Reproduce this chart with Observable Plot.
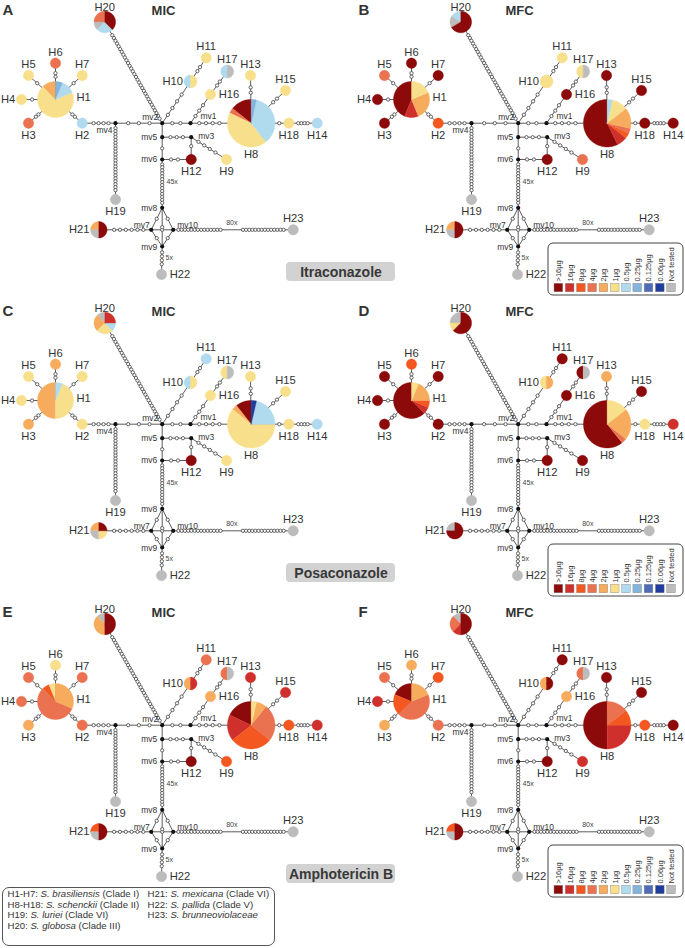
<!DOCTYPE html>
<html><head><meta charset="utf-8">
<script src="https://cdn.jsdelivr.net/npm/d3@7"></script>
<script src="https://cdn.jsdelivr.net/npm/@observablehq/plot@0.6"></script>
<style>
body{margin:0;background:#fff;font-family:"Liberation Sans",Arial,sans-serif;}
#wrap{position:relative;width:685px;height:948px;overflow:hidden;}
#species{position:absolute;left:2px;top:887px;width:273px;height:59px;box-sizing:border-box;border:1px solid #555;border-radius:7px;font-size:9.6px;color:#333;background:#fff;}
#species div{position:absolute;white-space:nowrap;line-height:10.5px;}
</style></head><body><div id="wrap"></div>
<script>
// ---------- categories / legend ----------
const concentrations = [">16µg","16µg","8µg","4µg","2µg","1µg","0.5µg","0.25µg","0.125µg","0.06µg","Not tested"];
const concentrationColors = ["#8c0a0a","#d0302b","#f4571f","#ea7250","#f6ac5c","#f8df8c","#b0dbee","#83b4dc","#4e6cb8","#1f3d9c","#bcbcbc"];

// ---------- haplotypes ----------
const haplotypes = ["H1","H2","H3","H4","H5","H6","H7","H8","H9","H10","H11","H12","H13","H14","H15","H16","H17","H18","H19","H20","H21","H22","H23"];
const isolateCounts = [27,1,1,1,1,1,1,50,1,2,1,1,1,1,1,1,2,1,1,8,4,1,1];

// ---------- per-panel isolate values (slices counter-clockwise from 12 o'clock) ----------
const itraconazoleMIC = [
 ["H1",[["2µg",2],["1µg",11],["0.5µg",2],["0.25µg",1]]],
 ["H2",[["0.5µg",1]]],["H3",[["4µg",1]]],["H4",[["1µg",1]]],["H5",[["1µg",1]]],["H6",[["4µg",1]]],["H7",[["1µg",1]]],
 ["H8",[[">16µg",4],["4µg",1],["1µg",12],["0.5µg",10],["0.25µg",1]]],
 ["H9",[["1µg",1]]],["H10",[["0.5µg",1],["1µg",1]]],["H11",[["1µg",1]]],["H12",[[">16µg",1]]],["H13",[["1µg",1]]],
 ["H14",[["0.5µg",1]]],["H15",[["1µg",1]]],["H16",[["1µg",1]]],["H17",[["0.5µg",1],["Not tested",1]]],["H18",[["1µg",1]]],
 ["H19",[["Not tested",1]]],["H20",[["4µg",2],["Not tested",1],["0.5µg",2],[">16µg",3]]],
 ["H21",[["2µg",1],["Not tested",1],[">16µg",2]]],["H22",[["Not tested",1]]],["H23",[["Not tested",1]]]
];
const itraconazoleMFC = [
 ["H1",[[">16µg",7],["16µg",2],["2µg",4],["1µg",3]]],
 ["H2",[["8µg",1]]],["H3",[[">16µg",1]]],["H4",[[">16µg",1]]],["H5",[["4µg",1]]],["H6",[[">16µg",1]]],["H7",[[">16µg",1]]],
 ["H8",[[">16µg",16],["16µg",2],["8µg",1],["4µg",1],["2µg",4],["1µg",3],["0.5µg",1]]],
 ["H9",[["4µg",1]]],["H10",[["1µg",2]]],["H11",[["1µg",1]]],["H12",[[">16µg",1]]],["H13",[[">16µg",1]]],
 ["H14",[[">16µg",1]]],["H15",[[">16µg",1]]],["H16",[[">16µg",1]]],["H17",[["1µg",1],["Not tested",1]]],["H18",[[">16µg",1]]],
 ["H19",[["Not tested",1]]],["H20",[["0.5µg",1],["Not tested",1],[">16µg",4]]],
 ["H21",[["2µg",1],["Not tested",1],[">16µg",2]]],["H22",[["Not tested",1]]],["H23",[["Not tested",1]]]
];
const posaconazoleMIC = [
 ["H1",[["2µg",8],["1µg",7],["0.5µg",1]]],
 ["H2",[["1µg",1]]],["H3",[["2µg",1]]],["H4",[["1µg",1]]],["H5",[["1µg",1]]],["H6",[["2µg",1]]],["H7",[["1µg",1]]],
 ["H8",[[">16µg",3],["2µg",1],["1µg",17],["0.5µg",6],["0.06µg",1]]],
 ["H9",[["1µg",1]]],["H10",[["0.5µg",1],["1µg",1]]],["H11",[["0.5µg",1]]],["H12",[[">16µg",1]]],["H13",[["1µg",1]]],
 ["H14",[["0.5µg",1]]],["H15",[["1µg",1]]],["H16",[["1µg",1]]],["H17",[["1µg",1],["Not tested",1]]],["H18",[["1µg",1]]],
 ["H19",[["Not tested",1]]],["H20",[["Not tested",1],["2µg",2],["1µg",2],["0.5µg",1],["16µg",2]]],
 ["H21",[["2µg",1],["Not tested",1],["1µg",1],[">16µg",1]]],["H22",[["Not tested",1]]],["H23",[["Not tested",1]]]
];
const posaconazoleMFC = [
 ["H1",[[">16µg",10],["16µg",1],["8µg",1],["2µg",3],["1µg",1]]],
 ["H2",[[">16µg",1]]],["H3",[[">16µg",1]]],["H4",[[">16µg",1]]],["H5",[[">16µg",1]]],["H6",[["8µg",1]]],["H7",[[">16µg",1]]],
 ["H8",[[">16µg",17],["4µg",1],["2µg",6],["1µg",4]]],
 ["H9",[[">16µg",1]]],["H10",[["1µg",1],["2µg",1]]],["H11",[[">16µg",1]]],["H12",[[">16µg",1]]],["H13",[["2µg",1]]],
 ["H14",[["16µg",1]]],["H15",[[">16µg",1]]],["H16",[[">16µg",1]]],["H17",[[">16µg",1],["Not tested",1]]],["H18",[["1µg",1]]],
 ["H19",[["Not tested",1]]],["H20",[["Not tested",2],["1µg",1],[">16µg",5]]],
 ["H21",[["Not tested",1],[">16µg",3]]],["H22",[["Not tested",1]]],["H23",[["Not tested",1]]]
];
const amphotericinMIC = [
 ["H1",[["1µg",1],["8µg",1],["4µg",9],["2µg",5]]],
 ["H2",[["4µg",1]]],["H3",[["2µg",1]]],["H4",[["4µg",1]]],["H5",[["4µg",1]]],["H6",[["1µg",1]]],["H7",[["4µg",1]]],
 ["H8",[[">16µg",5],["16µg",5],["8µg",8],["4µg",7],["2µg",2],["1µg",1]]],
 ["H9",[["8µg",1]]],["H10",[["2µg",1],["16µg",1]]],["H11",[["4µg",1]]],["H12",[[">16µg",1]]],["H13",[["16µg",1]]],
 ["H14",[["16µg",1]]],["H15",[["16µg",1]]],["H16",[["2µg",1]]],["H17",[["4µg",1],["Not tested",1]]],["H18",[["8µg",1]]],
 ["H19",[["Not tested",1]]],["H20",[["Not tested",1],["2µg",3],[">16µg",4]]],
 ["H21",[["8µg",1],["Not tested",1],[">16µg",2]]],["H22",[["Not tested",1]]],["H23",[["Not tested",1]]]
];
const amphotericinMFC = [
 ["H1",[[">16µg",3],["8µg",3],["4µg",7],["2µg",3]]],
 ["H2",[["4µg",1]]],["H3",[["2µg",1]]],["H4",[["16µg",1]]],["H5",[["4µg",1]]],["H6",[["2µg",1]]],["H7",[["8µg",1]]],
 ["H8",[[">16µg",14],["16µg",7],["8µg",3],["4µg",4]]],
 ["H9",[["16µg",1]]],["H10",[["2µg",1],[">16µg",1]]],["H11",[[">16µg",1]]],["H12",[[">16µg",1]]],["H13",[[">16µg",1]]],
 ["H14",[[">16µg",1]]],["H15",[[">16µg",1]]],["H16",[["2µg",1]]],["H17",[["4µg",1],["Not tested",1]]],["H18",[["8µg",1]]],
 ["H19",[["Not tested",1]]],["H20",[["Not tested",1],["4µg",2],["16µg",1],[">16µg",4]]],
 ["H21",[["8µg",1],["Not tested",1],[">16µg",2]]],["H22",[["Not tested",1]]],["H23",[["Not tested",1]]]
];

const panelLetters = ["A","B","C","D","E","F"];
const panelStatistics = ["MIC","MFC","MIC","MFC","MIC","MFC"];
const drugs = ["Itraconazole","Posaconazole","Amphotericin B"];
const panelValues = [itraconazoleMIC, itraconazoleMFC, posaconazoleMIC, posaconazoleMFC, amphotericinMIC, amphotericinMFC];

// ---------- network (median-joining) ----------
// node layout in network units: id, x, y, label side
const networkLayout = [
 ["H1",55,99,"right"],["H2",81.7,122.7,"below"],["H3",28,122.7,"below"],["H4",21,99,"left"],
 ["H5",28,75,"above"],["H6",55,62.7,"above"],["H7",81.7,75,"above"],["H8",250.7,122.7,"below"],
 ["H9",226,159,"below"],["H10",190,81,"left"],["H11",205.7,57.3,"above"],["H12",190.7,159,"below"],
 ["H13",250,75,"above"],["H14",316.7,122.7,"below"],["H15",285,90,"above"],["H16",210,94,"right"],
 ["H17",226.7,71,"above"],["H18",288.3,122.7,"below"],["H19",115,199,"below"],["H20",104.3,21.5,"above"],
 ["H21",98.3,229.3,"left"],["H22",161,274,"right"],["H23",292.7,229.3,"above"],
 ["mv1",190,122.7],["mv2",161.7,122.7],["mv3",190.7,136.7],["mv4",115,122.7],["mv5",161.7,136.7],
 ["mv6",161.7,159],["mv7",150.7,229.3],["mv8",161.7,207.3],["mv9",161.7,246],["mv10",172.7,229.3],
 ["gap80",231.3,229.3]
];
const medianVectors = ["mv1","mv2","mv3","mv4","mv5","mv6","mv7","mv8","mv9","mv10"];
const mvLabelPlacement = [["mv1",10,-6.5,"start"],["mv2",-4,-6,"end"],["mv3",7,-0.5,"start"],["mv4",-3,7.5,"end"],
 ["mv5",-5,0,"end"],["mv6",-5,0,"end"],["mv7",-1.5,-5,"end"],["mv8",-5,0,"end"],["mv9",-5,1,"end"],["mv10",4,-5,"start"]];
// edges: from, to, number of drawn mutation marks
const edges = [
 ["H1","H2",2],["H1","H3",2],["H1","H4",1],["H1","H5",1],["H1","H6",2],["H1","H7",1],
 ["H2","mv4",4],["mv4","mv2",3],["mv2","mv1",2],["mv1","H8",4],
 ["H8","H18",1],["H18","H14",4],["H8","H13",2],["H8","H15",2],
 ["mv1","H16",3],["H16","H17",2],["mv2","H10",4],["H10","H11",2],
 ["H20","mv2",31],["mv2","mv5",0],["mv5","mv3",3],["mv3","H12",1],["mv3","H9",4],
 ["mv5","mv6",1],["mv6","H12",2],["mv4","H19",22],["mv6","mv8",14],
 ["mv8","mv7",1],["mv8","mv10",1],["mv7","mv9",1],["mv10","mv9",1],["mv7","mv10",1],["mv8","mv9",1],
 ["H21","mv7",6],["mv10","gap80",14],["gap80","H23",14],["mv9","H22",4]
];
const chainLabels = [["45x",166,181.7,"start"],["80x",231.3,222,"middle"],["5x",165,257.7,"start"]];

const speciesKey = [
 ["H1-H7: ","S. brasiliensis"," (Clade I)"],
 ["H8-H18: ","S. schenckii"," (Clade II)"],
 ["H19: ","S. luriei"," (Clade VI)"],
 ["H20: ","S. globosa"," (Clade III)"],
 ["H21: ","S. mexicana"," (Clade VI)"],
 ["H22: ","S. pallida"," (Clade V)"],
 ["H23: ","S. brunneoviolaceae",""]
];

// ---------- layout helpers ----------
const colOffset = [0, 356], rowOffset = [0, 301, 602];
const nodeRadius = n => 3.06 * Math.sqrt(n) + 2.14;
const layout = new Map(networkLayout.map(([id, x, y, side]) => {
  const hi = haplotypes.indexOf(id);
  const r = hi >= 0 ? nodeRadius(isolateCounts[hi]) : (id === "gap80" ? 8 : 2);
  return [id, {id, x, y, side, r, hap: hi >= 0}];
}));

const edgeRows = [], tickRows = [], mvRows = [], pieRows = [], nodeLabelRows = [], mvLabelRows = [], chainLabelRows = [];
const titleRows = [], drugBoxRows = [], legendBoxRows = [], swatchRows = [], swatchLabelRows = [];

panelValues.forEach((values, p) => {
  const col = p % 2, row = Math.floor(p / 2);
  const ox = colOffset[col], oy = rowOffset[row];
  for (const [a, b, k] of edges) {
    const A = layout.get(a), B = layout.get(b);
    const ax = A.x + ox, ay = A.y + oy, bx = B.x + ox, by = B.y + oy;
    edgeRows.push({x1: ax, y1: ay, x2: bx, y2: by});
    const L = Math.hypot(bx - ax, by - ay), ux = (bx - ax) / L, uy = (by - ay) / L;
    const sA = A.r + (A.hap ? 1.2 : 0), sB = B.r + (B.hap ? 1.2 : 0);
    const sx = ax + ux * sA, sy = ay + uy * sA, ex = bx - ux * sB, ey = by - uy * sB;
    for (let i = 1; i <= k; i++) {
      const t = i / (k + 1);
      tickRows.push({x: sx + (ex - sx) * t, y: sy + (ey - sy) * t});
    }
  }
  for (const id of medianVectors) {
    const n = layout.get(id);
    mvRows.push({x: n.x + ox, y: n.y + oy});
  }
  for (const [id, dx, dy, anchor] of mvLabelPlacement) {
    const n = layout.get(id);
    mvLabelRows.push({x: n.x + ox + dx, y: n.y + oy + dy, text: id, anchor});
  }
  for (const [text, x, y, anchor] of chainLabels) chainLabelRows.push({x: x + ox, y: y + oy, text, anchor});
  for (const [hap, slices] of values) {
    const n = layout.get(hap);
    const cx = n.x + ox, cy = n.y + oy, r = n.r;
    const total = d3.sum(slices, d => d[1]);
    let a = 0;
    slices.forEach(([cat, w], i) => {
      const a0 = a, a1 = a + (w / total) * 2 * Math.PI; a = a1;
      const id = `${p}-${hap}-${i}`;
      const steps = Math.max(2, Math.ceil((a1 - a0) / (Math.PI / 90)));
      const full = slices.length === 1;
      if (!full) pieRows.push({id, cat, x: cx, y: cy});
      for (let s = 0; s <= steps; s++) {
        const th = -(a0 + (a1 - a0) * s / steps);
        pieRows.push({id, cat, x: cx + r * Math.sin(th), y: cy - r * Math.cos(th)});
      }
      if (!full) pieRows.push({id, cat, x: cx, y: cy});
    });
    let L;
    if (n.side === "above") L = {x: cx, y: cy - r - 6, anchor: "middle"};
    else if (n.side === "below") L = {x: cx, y: cy + r + 7, anchor: "middle"};
    else if (n.side === "left") L = {x: cx - r - 1, y: cy, anchor: "end"};
    else L = {x: cx + r + 3, y: cy - (r > 10 ? 2 : 0), anchor: "start"};
    if (hap === "H20") L.y = Math.max(L.y, oy + 6.5);
    nodeLabelRows.push({...L, text: hap});
  }
  titleRows.push({x: 2 + ox, y: 10 + oy, text: panelLetters[p], size: 15, anchor: "start"});
  titleRows.push({x: 163 + ox, y: 10 + oy, text: panelStatistics[p], size: 13, anchor: "middle"});
  if (col === 0) {
    drugBoxRows.push({x1: 286 + ox, x2: 395 + ox, y1: 262 + oy, y2: 281 + oy, x: 340.5 + ox, y: 271.8 + oy, text: drugs[row]});
  } else {
    legendBoxRows.push({x1: 192 + ox, x2: 327 + ox, y1: 243 + oy, y2: 295 + oy});
    concentrations.forEach((c, i) => {
      const x0 = 198 + ox + i * 11.27;
      swatchRows.push({x1: x0, x2: x0 + 8.7, y1: 283.3 + oy, y2: 291.8 + oy, cat: c});
      swatchLabelRows.push({x: x0 + 4.35, y: 281 + oy, text: c});
    });
  }
});

// text marks split by anchor (textAnchor is a constant option)
function anchoredText(rows, options) {
  return ["start", "middle", "end"].map(a =>
    Plot.text(rows.filter(d => d.anchor === a), {x: "x", y: "y", text: "text", textAnchor: a, ...options}));
}

const font = "Liberation Sans, Arial, Helvetica, sans-serif";
const chart = Plot.plot({
  width: 685, height: 948, margin: 0,
  style: {fontFamily: font, background: "white"},
  x: {domain: [0, 685], range: [0, 685], axis: null},
  y: {domain: [0, 948], range: [0, 948], axis: null},
  color: {domain: concentrations, range: concentrationColors},
  marks: [
    Plot.rect(drugBoxRows, {x1: "x1", x2: "x2", y1: "y1", y2: "y2", fill: "#d2d2d2", rx: 4}),
    Plot.text(drugBoxRows, {x: "x", y: "y", text: "text", fontWeight: "bold", fontSize: 14, fill: "#383838"}),
    Plot.link(edgeRows, {x1: "x1", y1: "y1", x2: "x2", y2: "y2", stroke: "#4a4a4a", strokeWidth: 0.9}),
    Plot.dot(tickRows, {x: "x", y: "y", r: 1.65, fill: "white", stroke: "#4a4a4a", strokeWidth: 0.85}),
    Plot.dot(mvRows, {x: "x", y: "y", r: 2.1, fill: "#111", stroke: null}),
    Plot.line(pieRows, {x: "x", y: "y", z: "id", fill: "cat", stroke: "cat", strokeWidth: 0.35, curve: "linear"}),
    ...anchoredText(nodeLabelRows, {fontSize: 11.2, fill: "#333"}),
    ...anchoredText(mvLabelRows, {fontSize: 8.5, fill: "#333"}),
    ...anchoredText(chainLabelRows, {fontSize: 7, fill: "#444"}),
    ...anchoredText(titleRows, {fontSize: "size", fontWeight: "bold", fill: "#333"}),
    Plot.rect(legendBoxRows, {x1: "x1", x2: "x2", y1: "y1", y2: "y2", fill: "white", stroke: "#444", strokeWidth: 1, rx: 5}),
    Plot.rect(swatchRows, {x1: "x1", x2: "x2", y1: "y1", y2: "y2", fill: "cat", stroke: "#888", strokeWidth: 0.4}),
    Plot.text(swatchLabelRows, {x: "x", y: "y", text: "text", rotate: -90, textAnchor: "start", fontSize: 7.5, fill: "#333"})
  ]
});
const wrap = document.getElementById("wrap");
wrap.appendChild(chart);

// species key box
const box = document.createElement("div");
box.id = "species";
speciesKey.forEach(([pre, sp, post], i) => {
  const d = document.createElement("div");
  const colIdx = i < 4 ? 0 : 1, r = i < 4 ? i : i - 4;
  d.style.left = (colIdx === 0 ? 4.5 : 144.5) + "px";
  d.style.top = (1 + r * 10.5) + "px";
  d.append(pre);
  const it = document.createElement("i"); it.textContent = sp; d.append(it);
  d.append(post);
  box.appendChild(d);
});
wrap.appendChild(box);
</script>
</body></html>
